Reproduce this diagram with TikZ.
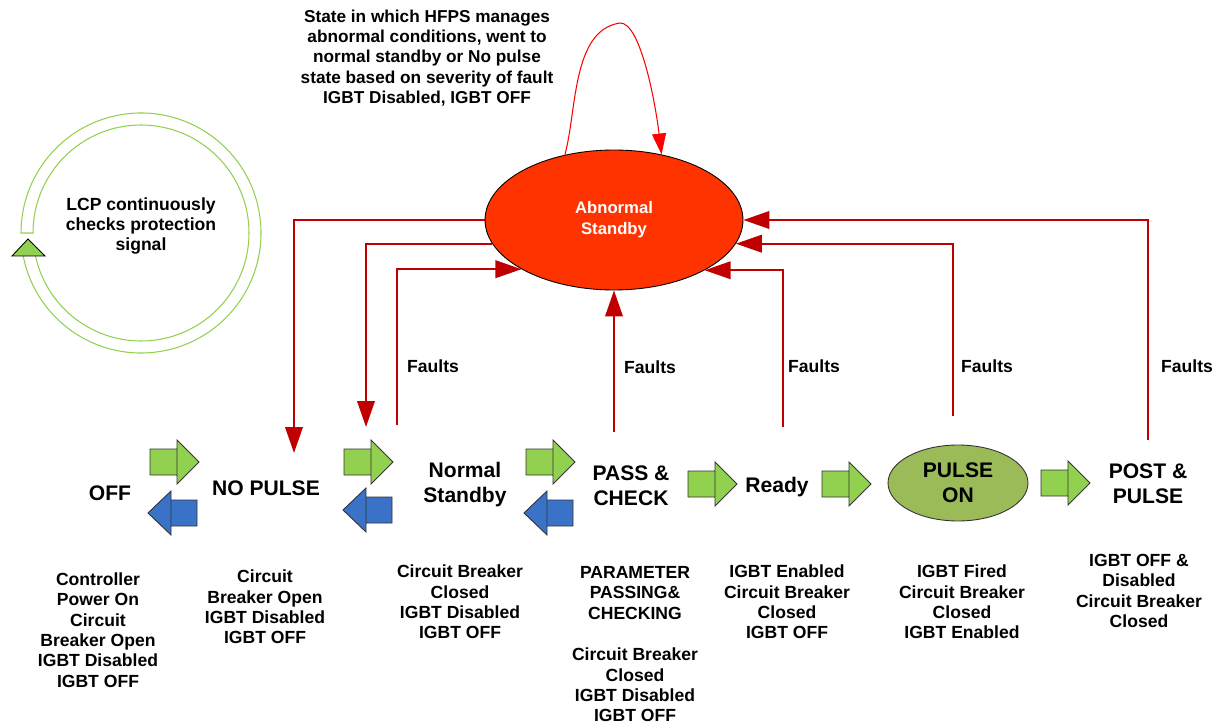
\documentclass[tikz,border=0pt]{standalone}
\usepackage{fontspec}
\setmainfont{Liberation Sans}
\usetikzlibrary{arrows.meta}
\usetikzlibrary{shapes.geometric}

\definecolor{abred}{HTML}{FF3300}
\definecolor{fltred}{HTML}{C00000}
\definecolor{fwdgreen}{HTML}{92D050}
\definecolor{backblue}{HTML}{3A72C8}
\definecolor{pulsegreen}{HTML}{9BBB59}

\begin{document}
\begin{tikzpicture}[x=0.02cm,y=-0.02cm,>={Triangle[length=0.52cm,width=0.35cm]},
    every node/.style={font=\fontsize{10}{11.6}\selectfont\bfseries,align=center,inner sep=0pt},
    statelbl/.style={font=\fontsize{12}{14.2}\selectfont\bfseries},
    fault/.style={fltred,line width=1.2pt},
    fwdarrow/.style={fill=fwdgreen,draw=black!80,line width=0.5pt},
    backarrow/.style={fill=backblue,draw=black!80,line width=0.5pt}]
        \useasboundingbox (0,0) rectangle (1221,726);

        % protection loop
        \draw[fwdgreen,line width=0.6pt] (141,233) ++(169:120) arc[start angle=169,end angle=-180,radius=120]
          -- ++(12,0) arc[start angle=-180,end angle=169,radius=108] -- cycle;
        \filldraw[fill=fwdgreen,draw=black,line width=0.5pt] (28,239) -- (45,256) -- (12,256) -- cycle;
        \node (lcp) at (141,226) {LCP continuously\\checks protection\\signal};

        \node[font=\fontsize{9.8}{11.5}\selectfont\bfseries] (note) at (427,58) {State in which HFPS manages\\abnormal conditions, went to\\normal standby or No pulse\\state based on severity of fault\\IGBT Disabled, IGBT OFF};

        \node[ellipse,draw=black,line width=0.5pt,fill=abred,text=white,minimum width=5.16cm,minimum height=2.8cm,
              font=\fontsize{9.5}{11.9}\selectfont\bfseries] (abnormal) at (614,220) {Abnormal\\Standby};

        \draw[red,line width=0.6pt,-{Triangle[length=0.42cm,width=0.28cm]}] (abnormal.127)
          .. controls (577,110) and (572,30) .. (620,23) .. controls (640,22) and (655,100) .. (abnormal.54);

        \foreach \i/\j in {150/462, 344/462, 526/462, 688/484, 822/484, 1041/483}
        \filldraw[fwdarrow] (\i,\j-13) rectangle (\i+27,\j+13) (\i+27,\j-22) -- (\i+49,\j) -- (\i+27,\j+22) -- cycle;

        \foreach \i/\j in {148/513, 343/510, 524/513}
        \filldraw[backarrow] (\i+23,\j-13) rectangle (\i+49,\j+13) (\i,\j) -- (\i+23,\j-22) -- (\i+23,\j+22) -- cycle;

        \node[statelbl] (off) at (110,493) {OFF};
        \node[statelbl] (nopulse) at (266,488) {NO PULSE};
        \node[statelbl] (normal) at (465,485) {Normal\\Standby};
        \node[statelbl] (pass) at (631,486) {PASS \&\\CHECK};
        \node[statelbl] (ready) at (777,487) {Ready};
        \node[statelbl,ellipse,draw=black!80,line width=0.5pt,fill=pulsegreen,minimum width=2.8cm,minimum height=1.52cm] (pulseon) at (958,483) {PULSE\\ON};
        \node[statelbl] (post) at (1148,484) {POST \&\\PULSE};

        \node (doff) at (98,630) {Controller\\Power On\\Circuit\\Breaker Open\\IGBT Disabled\\IGBT OFF};
        \node (dnopulse) at (265,607) {Circuit\\Breaker Open\\IGBT Disabled\\IGBT OFF};
        \node (dnormal) at (460,602) {Circuit Breaker\\Closed\\IGBT Disabled\\IGBT OFF};
        \node (dpass) at (635,593) {PARAMETER\\PASSING\&\\CHECKING};
        \node (dcheck) at (635,685) {Circuit Breaker\\Closed\\IGBT Disabled\\IGBT OFF};
        \node (dready) at (787,602) {IGBT Enabled\\Circuit Breaker\\Closed\\IGBT OFF};
        \node (dpulseon) at (962,602) {IGBT Fired\\Circuit Breaker\\Closed\\IGBT Enabled};
        \node (dpost) at (1139,591) {IGBT OFF \&\\Disabled\\Circuit Breaker\\Closed};

        \coordinate (tonp) at (294,453);
        \coordinate (tons) at (366,427);
        \coordinate (fns) at (397,425);
        \coordinate (fpc) at (614,432);
        \coordinate (frd) at (783,427);
        \coordinate (fpo) at (953,416);
        \coordinate (fpp) at (1148,440);

        \draw[fault,->] (abnormal.west) -| (tonp);
        \draw[fault,->] (abnormal.191) -| (tons);
        \draw[fault,->] (fns) |- (abnormal.208);
        \draw[fault,->] (fpc) -- (abnormal.south);
        \draw[fault,->] (frd) |- (abnormal.331);
        \draw[fault,->] (fpo) |- (abnormal.349);
        \draw[fault,->] (fpp) |- (abnormal.east);

        \foreach \i/\j in {433/366, 650/367, 814/366, 987/366, 1187/366}
        \node at (\i,\j) {Faults};
      \end{tikzpicture}
\end{document}
